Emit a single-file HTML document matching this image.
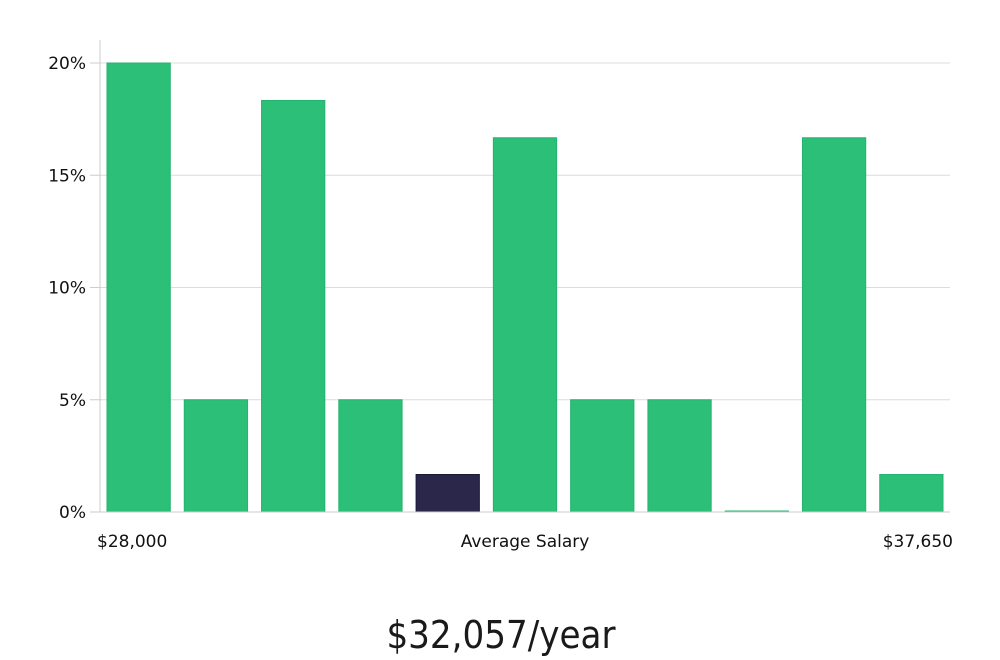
<!DOCTYPE html>
<html><head><meta charset="utf-8"><style>
body{margin:0;background:#fff;width:1000px;height:660px;overflow:hidden}
svg{display:block}
text{font-family:"DejaVu Sans","Liberation Sans",sans-serif;fill:#111}
</style></head><body>
<svg id="chart" width="1000" height="660" xmlns="http://www.w3.org/2000/svg">
<g id="grid"></g>
<g id="bars"></g>
<g id="axes"></g>
<text x="97" y="547" font-size="17">$28,000</text>
<text x="525" y="547" font-size="17" text-anchor="middle">Average Salary</text>
<text x="953" y="547" font-size="17" text-anchor="end">$37,650</text>
<text x="501" y="648" font-size="38" text-anchor="middle" style="font-family:'DejaVu Sans Condensed','Liberation Sans Narrow',sans-serif;font-weight:300;fill:#1a1a1a">$32,057/year</text>
</svg>
<script>
const categories=["b1","b2","b3","b4","b5","b6","b7","b8","b9","b10","b11"];
const values=[20,5,18.33,5,1.67,16.67,5,5,0,16.67,1.67];
const highlightIndex=[4];
const yTicks=[0,5,10,15,20];
const yTickLabels=["0%","5%","10%","15%","20%"];
const NS="http://www.w3.org/2000/svg";
const x0=100,x1=950,yBase=512,yTop=63,yMax=20;
const y=v=>yBase-(v/yMax)*(yBase-yTop);
const slot=(x1-x0)/categories.length;
const grid=document.getElementById('grid'),bars=document.getElementById('bars'),axes=document.getElementById('axes');
function mk(tag,attrs,parent){const e=document.createElementNS(NS,tag);for(const k in attrs)e.setAttribute(k,attrs[k]);parent.appendChild(e);return e;}
yTicks.forEach((t,i)=>{
  const l=mk('line',{x1:x0,x2:x1,y1:y(t),y2:y(t),stroke:'#dcdcdc','stroke-width':1},grid);
  
  
  const tk=mk('line',{x1:x0-10,x2:x0,y1:y(t),y2:y(t),stroke:'#cccccc','stroke-width':1},axes);
  
  
  const tx=mk('text',{x:x0-14,y:y(t)+6,'font-size':17,'text-anchor':'end'},axes);
  tx.textContent=yTickLabels[i];
  
  
});
const ax=mk('line',{x1:x0,x2:x0,y1:40,y2:yBase,stroke:'#cccccc','stroke-width':1},axes);


const bx=mk('line',{x1:x0,x2:x1,y1:yBase,y2:yBase,stroke:'#cccccc','stroke-width':1},axes);


values.forEach((v,i)=>{
  const hl=highlightIndex.includes(i);
  const bx0=x0+i*slot+7, w=slot-14;
  const top=y(v), h=Math.max(yBase-top,1);
  const r=mk('rect',{x:bx0,y:yBase-h,width:w,height:h,fill:hl?'#2a274a':'#2bbf78',stroke:hl?'#1a1833':'#26b36f','stroke-width':1},bars);
  
  
});
</script>
</body></html>
